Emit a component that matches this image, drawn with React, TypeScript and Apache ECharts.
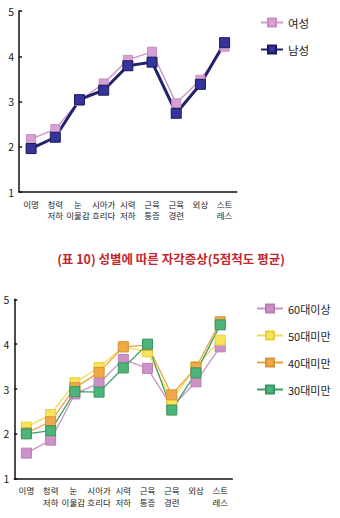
import React, { useEffect, useRef } from "react";
import * as echarts from "echarts";

const categories = ["이명", "청력\n저하", "눈\n이물감", "시아가\n흐리다", "시력\n저하", "근육\n통증", "근육\n경련", "외상", "스트\n레스"];
const yTicks = [1, 2, 3, 4, 5];

const female = [2.17, 2.39, 3.01, 3.4, 3.92, 4.1, 2.96, 3.48, 4.21];
const male = [1.96, 2.21, 3.04, 3.25, 3.79, 3.87, 2.74, 3.38, 4.3];

const age60 = [1.57, 1.86, 2.89, 3.13, 3.66, 3.46, 2.6, 3.16, 3.94];
const age50 = [2.15, 2.43, 3.14, 3.48, 3.94, 3.83, 2.75, 3.5, 4.09];
const age40 = [2.02, 2.27, 3.03, 3.37, 3.94, 3.98, 2.87, 3.48, 4.5];
const age30 = [2.0, 2.07, 2.94, 2.93, 3.47, 4.0, 2.53, 3.36, 4.43];

const titleText = "(표 10) 성별에 따른 자각증상(5점척도 평균)";
const FONT = "'Noto Sans CJK KR', 'Noto Sans', sans-serif";

export default function App() {
  const ref = useRef<HTMLDivElement>(null);
  useEffect(() => {
    if (!ref.current) return;
    const chart = echarts.init(ref.current, undefined, { renderer: "svg" });
    const xAxisBase = (gridIndex: number) => ({
      type: "category",
      gridIndex,
      data: categories,
      boundaryGap: true,
      axisLine: { lineStyle: { color: "#111", width: 1.5 } },
      axisTick: { inside: true, length: 4, lineStyle: { color: "#111", width: 1.5 } },
      axisLabel: {
        color: "#222",
        fontSize: 8.5,
        lineHeight: 11.5,
        margin: 6,
        fontFamily: FONT,
        interval: 0,
        formatter: (v: string, i: number) =>
          i === 2 ? v.split("\n").map((s) => `{l|${s}}`).join("\n") : v,
        rich: {
          l: { fontSize: 8.5, lineHeight: 11.5, color: "#222", fontFamily: FONT, padding: [0, 3, 0, 0] },
        },
      },
      splitLine: { show: false },
    });
    const yAxisBase = (gridIndex: number) => ({
      type: "value",
      gridIndex,
      min: 1,
      max: 5,
      interval: 1,
      axisLine: { show: true, lineStyle: { color: "#111", width: 1.5 } },
      axisTick: { show: true, inside: true, length: 3, lineStyle: { color: "#111", width: 1.5 } },
      axisLabel: { color: "#222", fontSize: 10.5, margin: 5, fontFamily: FONT, customValues: yTicks },
      splitLine: { show: false },
    });
    const lineSeries = (name: string, data: number[], idx: number, color: string, marker: string, border: string, width: number, size: number) => ({
      name,
      type: "line",
      xAxisIndex: idx,
      yAxisIndex: idx,
      data,
      symbol: "rect",
      symbolSize: size,
      lineStyle: { color, width },
      itemStyle: { color: marker, borderColor: border, borderWidth: 1 },
      emphasis: { disabled: true },
    });
    chart.setOption({
      animation: false,
      backgroundColor: "#fff",
      title: {
        text: titleText,
        left: 166,
        textAlign: "center",
        top: 247,
        textStyle: { color: "#c3262c", fontSize: 12.5, fontWeight: "bold", fontFamily: FONT },
      },
      grid: [
        { left: 19, top: 11, width: 217.7, height: 181 },
        { left: 14.3, top: 299.3, width: 218, height: 179.4 },
      ],
      xAxis: [xAxisBase(0), xAxisBase(1)],
      yAxis: [yAxisBase(0), yAxisBase(1)],
      legend: [
        {
          data: ["여성", "남성"],
          orient: "vertical",
          left: 255,
          top: 11,
          itemWidth: 22,
          itemHeight: 10,
          itemGap: 14,
          itemTextGap: 5,
          textStyle: { fontSize: 11.5, lineHeight: 13, color: "#222", fontFamily: FONT },
        },
        {
          data: ["60대이상", "50대미만", "40대미만", "30대미만"],
          orient: "vertical",
          left: 251,
          top: 297,
          itemWidth: 26,
          itemHeight: 10,
          itemGap: 14,
          itemTextGap: 4,
          textStyle: { fontSize: 11, lineHeight: 13, color: "#222", fontFamily: FONT },
        },
      ],
      series: [
        lineSeries("여성", female, 0, "#d09ccc", "#d7a2d3", "#c68ec2", 1.5, 9),
        lineSeries("남성", male, 0, "#22226e", "#34349a", "#1a1a5a", 3, 10),
        lineSeries("60대이상", age60, 1, "#c994c5", "#cc92c8", "#b87fb4", 1.3, 10),
        lineSeries("50대미만", age50, 1, "#f3dc55", "#f8e35a", "#e8cf40", 1.3, 10),
        lineSeries("40대미만", age40, 1, "#e9a346", "#f0a848", "#d8933a", 1.3, 10),
        lineSeries("30대미만", age30, 1, "#3f9f63", "#4db47a", "#36955e", 1.3, 10),
      ],
    });
    return () => chart.dispose();
  }, []);
  return <div ref={ref} style={{ position: "absolute", left: 0, top: 0, width: 340, height: 518 }} />;
}
